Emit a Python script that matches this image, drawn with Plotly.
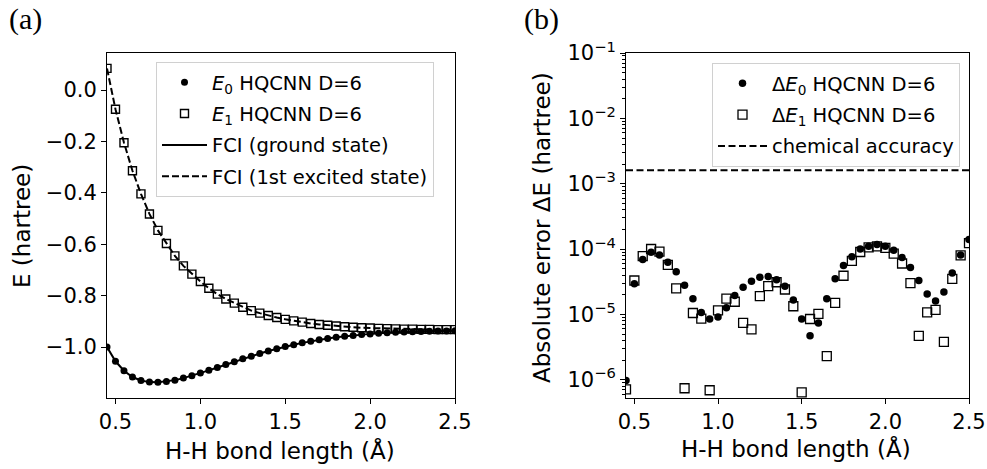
import plotly.graph_objects as go

# ---------------- data ----------------
bond = [0.45, 0.50, 0.55, 0.60, 0.65, 0.70, 0.75, 0.80, 0.85, 0.90, 0.95,
        1.00, 1.05, 1.10, 1.15, 1.20, 1.25, 1.30, 1.35, 1.40, 1.45, 1.50,
        1.55, 1.60, 1.65, 1.70, 1.75, 1.80, 1.85, 1.90, 1.95, 2.00, 2.05,
        2.10, 2.15, 2.20, 2.25, 2.30, 2.35, 2.40, 2.45, 2.50]

fci_ground = [-1.000, -1.0552, -1.0918, -1.1163, -1.1299, -1.1362, -1.1371,
              -1.1341, -1.1285, -1.1206, -1.1113, -1.1012, -1.0904, -1.0792,
              -1.0680, -1.0567, -1.0458, -1.0352, -1.0251, -1.0155, -1.0066,
              -0.9981, -0.9905, -0.9835, -0.9772, -0.9714, -0.9664, -0.9619,
              -0.9579, -0.9545, -0.9514, -0.9486, -0.9463, -0.9442, -0.9426,
              -0.9412, -0.9400, -0.9390, -0.9383, -0.9376, -0.9372, -0.9368]

fci_excited = [0.084, -0.075, -0.205, -0.314, -0.404, -0.482, -0.546, -0.597,
               -0.645, -0.684, -0.716, -0.745, -0.771, -0.794, -0.813, -0.829,
               -0.845, -0.858, -0.868, -0.877, -0.885, -0.892, -0.898, -0.903,
               -0.908, -0.912, -0.915, -0.918, -0.921, -0.923, -0.925, -0.926,
               -0.927, -0.928, -0.929, -0.930, -0.930, -0.931, -0.931, -0.932,
               -0.932, -0.932]

hqcnn_e0 = fci_ground
hqcnn_e1 = fci_excited

dE0 = [9.7e-7, 2.95e-5, 6.9e-5, 8.9e-5, 8.1e-5, 6.3e-5, 4.5e-5, 2.8e-5,
       1.74e-5, 1.07e-5, 8.5e-6, 9.1e-6, 1.26e-5, 1.95e-5, 2.6e-5, 3.2e-5,
       3.7e-5, 3.8e-5, 3.4e-5, 2.7e-5, 1.66e-5, 8.5e-6, 4.7e-6, 7.4e-6,
       1.74e-5, 3.5e-5, 5.6e-5, 7.6e-5, 1.0e-4, 1.1e-4, 1.17e-4, 1.1e-4,
       9.6e-5, 7.4e-5, 5.2e-5, 3.3e-5, 2.05e-5, 1.6e-5, 2.2e-5, 4.3e-5,
       8.1e-5, 1.4e-4]

dE1 = [7.1e-7, 3.3e-5, 7.8e-5, 1.0e-4, 9.1e-5, 5.7e-5, 2.5e-5, 7.4e-7,
       1.05e-5, 8.6e-6, 6.9e-7, 1.15e-5, 1.74e-5, 1.56e-5, 7.4e-6, 5.9e-6,
       1.9e-5, 2.7e-5, 3.1e-5, 2.4e-5, 1.33e-5, 6.4e-7, 8.5e-6, 1.02e-5,
       2.3e-6, 1.5e-5, 3.9e-5, 6.6e-5, 9.0e-5, 1.06e-4, 1.1e-4, 1.04e-4,
       8.5e-5, 6.0e-5, 3.0e-5, 4.7e-6, 1.07e-5, 1.17e-5, 3.8e-6, 3.5e-5,
       8.0e-5, 1.23e-4]

chem_acc = 1.6e-3

x_ticks = [0.5, 1.0, 1.5, 2.0, 2.5]
log_major = [1e-6, 1e-5, 1e-4, 1e-3, 1e-2, 1e-1]
log_major_text = ["10<sup>\u22126</sup>", "10<sup>\u22125</sup>", "10<sup>\u22124</sup>",
                  "10<sup>\u22123</sup>", "10<sup>\u22122</sup>", "10<sup>\u22121</sup>"]

# ---------------- figure ----------------
W, H = 987, 469
FONT = "DejaVu Sans"

fig = go.Figure()

# Left panel
fig.add_trace(go.Scatter(x=bond, y=hqcnn_e0, mode="markers",
                         name="<i>E</i><sub>0</sub> HQCNN D=6", legendgroup="a1",
                         marker=dict(symbol="circle", size=7, color="black"),
                         xaxis="x", yaxis="y", legend="legend"))
fig.add_trace(go.Scatter(x=bond, y=hqcnn_e1, mode="markers",
                         name="<i>E</i><sub>1</sub> HQCNN D=6", legendgroup="a2",
                         marker=dict(symbol="square-open", size=8, color="black",
                                     line=dict(width=1.4, color="black")),
                         xaxis="x", yaxis="y", legend="legend"))
fig.add_trace(go.Scatter(x=bond, y=fci_ground, mode="lines",
                         name="FCI (ground state)", legendgroup="a3",
                         line=dict(color="black", width=2),
                         xaxis="x", yaxis="y", legend="legend"))
fig.add_trace(go.Scatter(x=bond, y=fci_excited, mode="lines",
                         name="FCI (1st excited state)", legendgroup="a4",
                         line=dict(color="black", width=2, dash="7px,3px"),
                         xaxis="x", yaxis="y", legend="legend"))

# Right panel
fig.add_trace(go.Scatter(x=bond, y=dE0, mode="markers",
                         name="\u0394<i>E</i><sub>0</sub> HQCNN D=6", legendgroup="b1",
                         marker=dict(symbol="circle", size=7.5, color="black"),
                         xaxis="x2", yaxis="y2", legend="legend2"))
fig.add_trace(go.Scatter(x=bond, y=dE1, mode="markers",
                         name="\u0394<i>E</i><sub>1</sub> HQCNN D=6", legendgroup="b2",
                         marker=dict(symbol="square-open", size=9, color="black",
                                     line=dict(width=1.3, color="black")),
                         xaxis="x2", yaxis="y2", legend="legend2"))
fig.add_trace(go.Scatter(x=[bond[0], bond[-1]], y=[chem_acc, chem_acc], mode="lines",
                         name="chemical accuracy", legendgroup="b3",
                         line=dict(color="black", width=2, dash="7px,3.5px"),
                         xaxis="x2", yaxis="y2", legend="legend2"))

axis_common = dict(showline=True, mirror=True, linecolor="black", linewidth=1,
                   showgrid=False, zeroline=False, ticks="outside", ticklen=5,
                   tickwidth=1, tickcolor="black", automargin=False,
                   tickfont=dict(family=FONT, size=21, color="black"))

def px_x(p):
    return p / W

def px_y(p):
    return 1 - p / H

minor_vals = [k * 10.0 ** n for n in range(-7, -1) for k in range(2, 10)]

legend_common = dict(xanchor="left", yanchor="top",
                     bgcolor="rgba(255,255,255,0.85)", bordercolor="#d0d0d0", borderwidth=1,
                     font=dict(family=FONT, size=19.5, color="black"),
                     tracegroupgap=3)

fig.update_layout(
    width=W, height=H,
    margin=dict(l=0, r=0, t=0, b=0, pad=0, autoexpand=False),
    paper_bgcolor="white", plot_bgcolor="white",
    font=dict(family=FONT, color="black"),
    showlegend=True,
    xaxis=dict(domain=[px_x(107), px_x(455)], range=[0.45, 2.5], anchor="y",
               tickvals=x_ticks, tickformat=".1f", **axis_common),
    yaxis=dict(domain=[px_y(398), px_y(53)], range=[-1.198, 0.144], anchor="x",
               tick0=0, dtick=0.2, tickformat=".1f", **axis_common),
    xaxis2=dict(domain=[px_x(626), px_x(969)], range=[0.45, 2.5], anchor="y2",
                tickvals=x_ticks, tickformat=".1f", **axis_common),
    yaxis2=dict(domain=[px_y(398), px_y(53)], type="log", range=[-6.28, -1], anchor="x2",
                tickvals=log_major, ticktext=log_major_text,
                minor=dict(tickvals=minor_vals, ticks="outside", ticklen=3,
                           tickwidth=0.8, tickcolor="black", showgrid=False),
                **axis_common),
    legend=dict(x=px_x(156), y=px_y(62), itemwidth=45, **legend_common),
    legend2=dict(x=px_x(712), y=px_y(63), itemwidth=49, **legend_common),
)

annots = [
    dict(text="(a)", x=px_x(25), y=px_y(19), font=dict(family="Liberation Serif", size=30)),
    dict(text="(b)", x=px_x(541), y=px_y(19), font=dict(family="Liberation Serif", size=30)),
    dict(text="H-H bond length (\u00c5)", x=px_x(280), y=px_y(450),
         font=dict(family=FONT, size=23)),
    dict(text="H-H bond length (\u00c5)", x=px_x(796), y=px_y(448),
         font=dict(family=FONT, size=23)),
    dict(text="E (hartree)", x=px_x(22), y=px_y(226), textangle=-90,
         font=dict(family=FONT, size=23)),
    dict(text="Absolute error \u0394E (hartree)", x=px_x(542), y=px_y(228), textangle=-90,
         font=dict(family=FONT, size=23)),
]
for a in annots:
    fig.add_annotation(xref="paper", yref="paper", showarrow=False,
                       xanchor="center", yanchor="middle", **a)

fig.write_html("out.html")
